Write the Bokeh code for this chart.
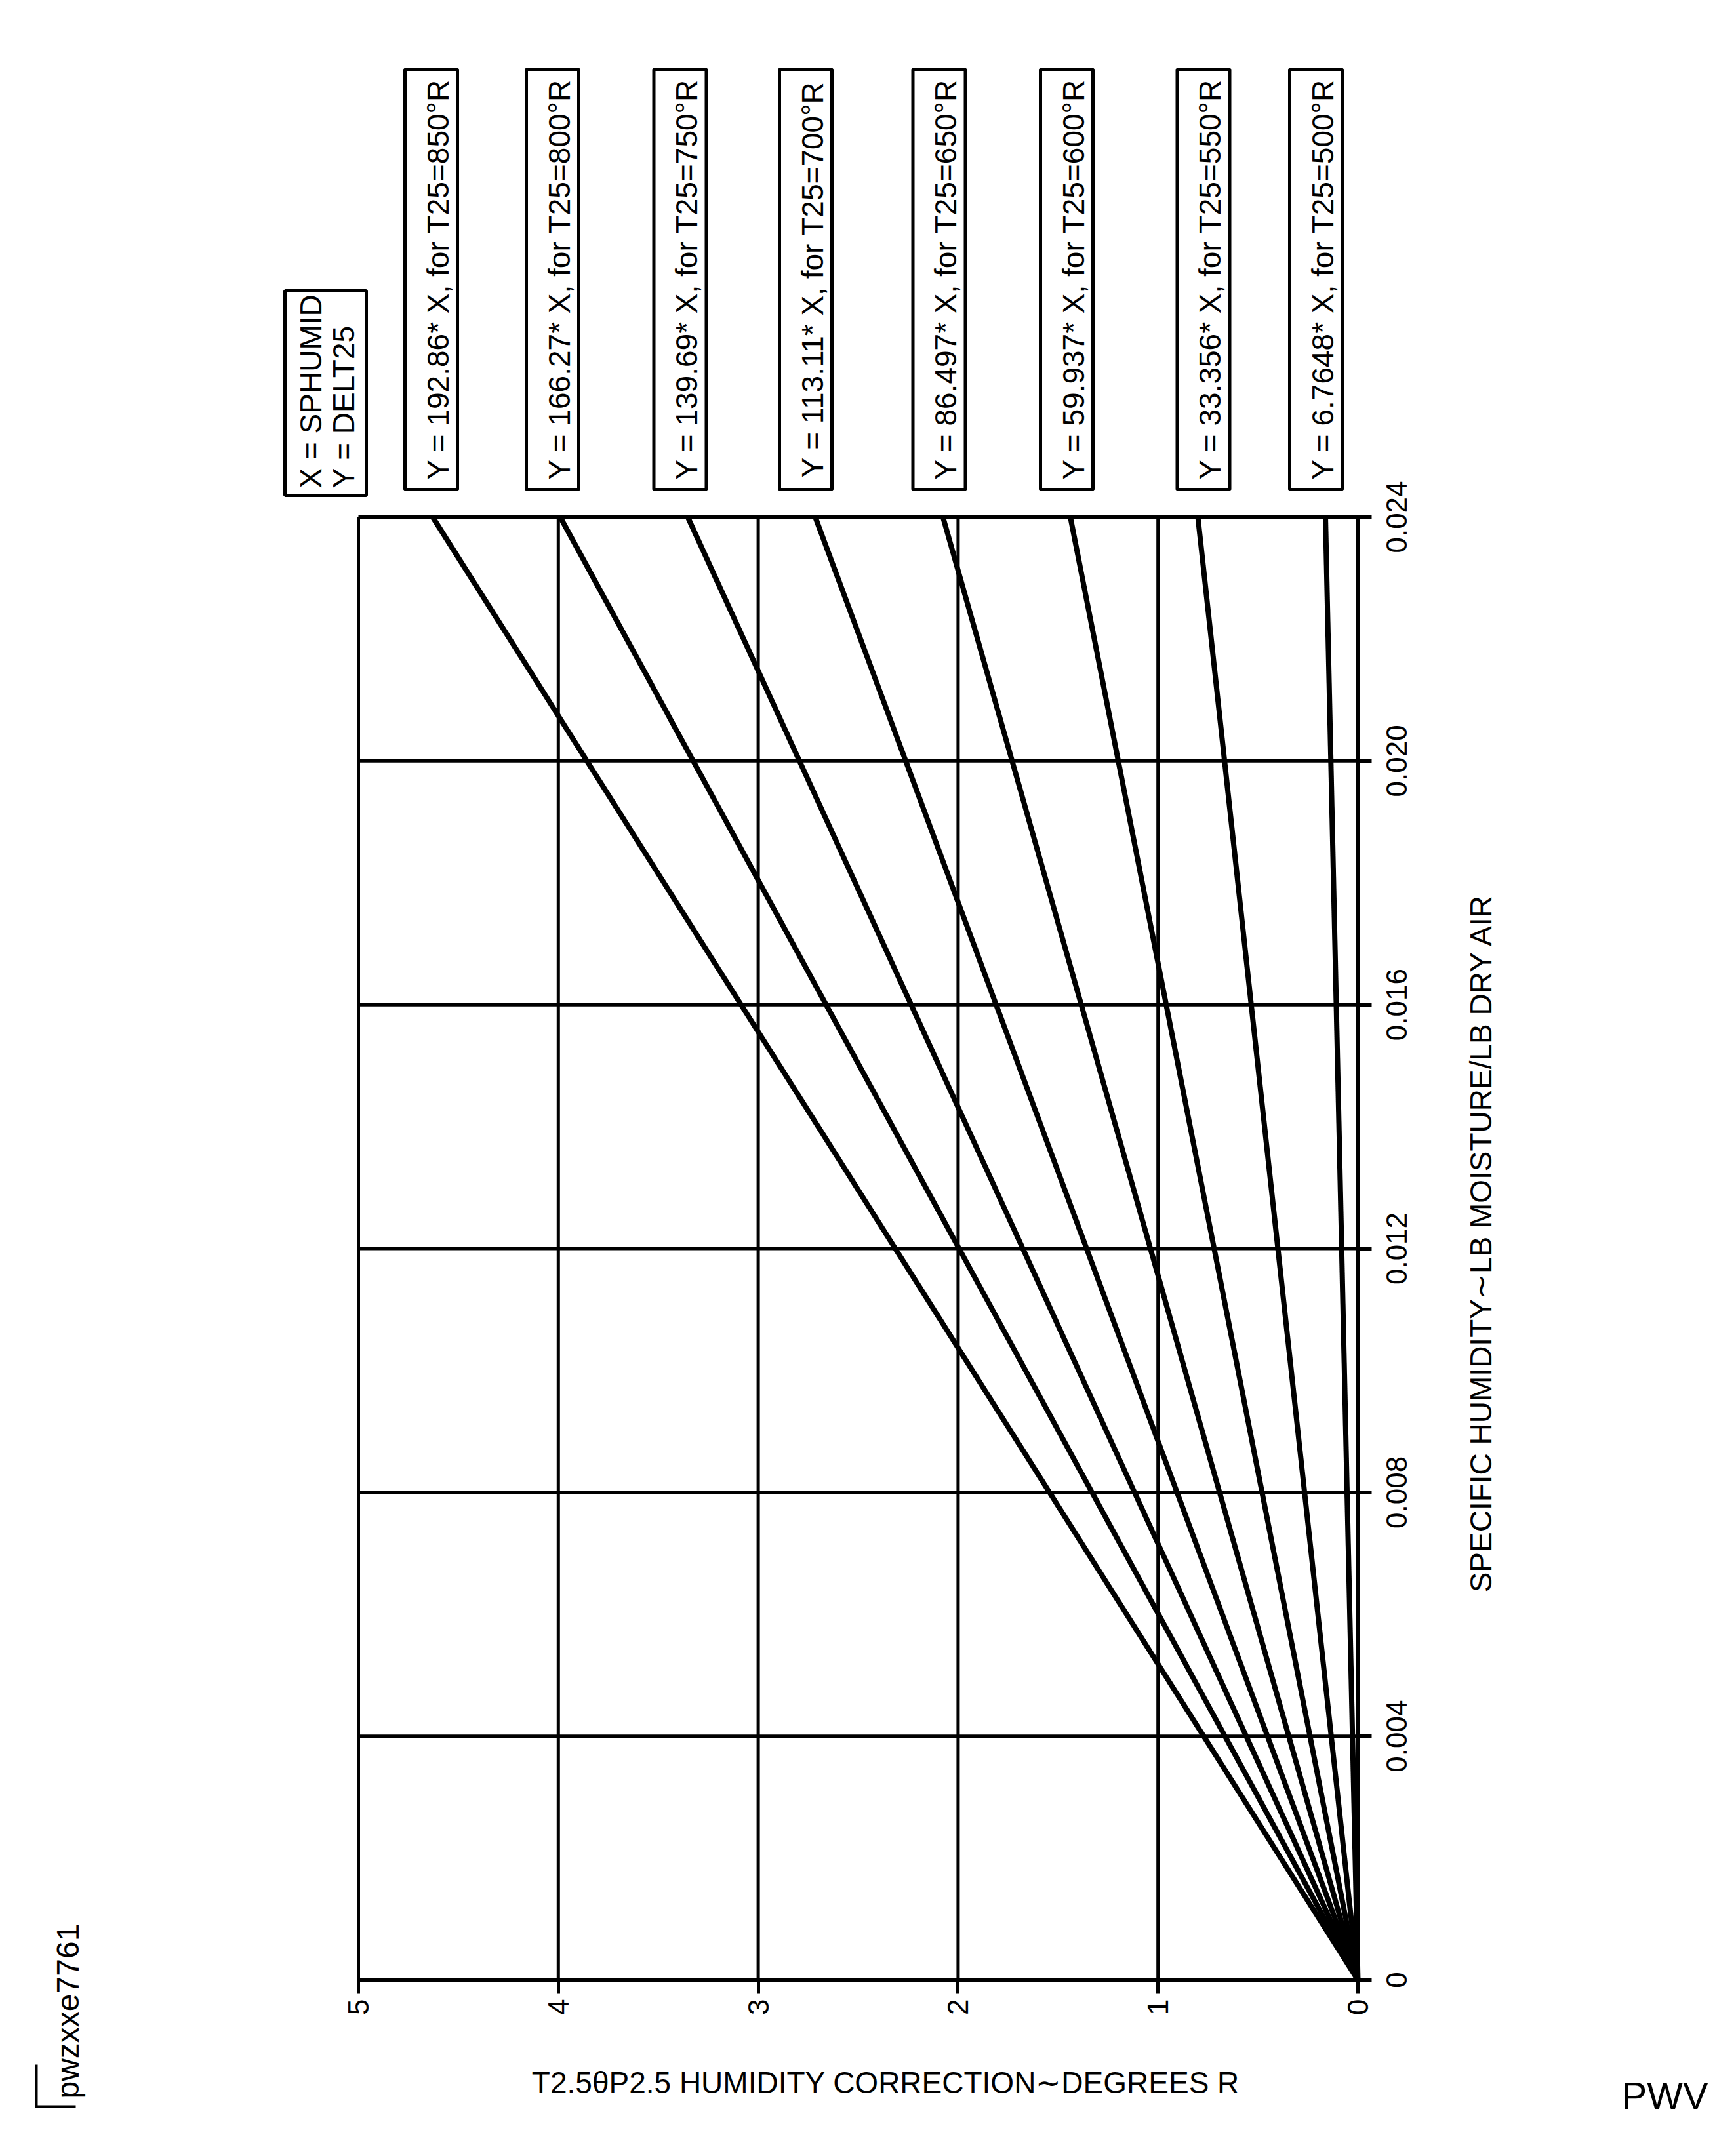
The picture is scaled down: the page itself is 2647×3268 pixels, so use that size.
from math import pi
from bokeh.plotting import figure
from bokeh.models import Range1d, LinearAxis, FixedTicker, CustomJSTickFormatter
from bokeh.core.properties import value
from bokeh.embed import file_html
from bokeh.resources import INLINE

# ---------------- data ----------------
temps_R = [850, 800, 750, 700, 650, 600, 550, 500]
slopes = ["192.86", "166.27", "139.69", "113.11", "86.497", "59.937", "33.356", "6.7648"]
humidity_span = [0.0, 0.024]

correction_ticks = [0, 1, 2, 3, 4, 5]
correction_tick_labels = ["0", "1", "2", "3", "4", "5"]
humidity_ticks = [0.0, 0.004, 0.008, 0.012, 0.016, 0.020, 0.024]
humidity_tick_labels = ["0", "0.004", "0.008", "0.012", "0.016", "0.020", "0.024"]

x_title = "T2.5θP2.5 HUMIDITY CORRECTION∼DEGREES R"
y_title = "SPECIFIC HUMIDITY∼LB MOISTURE/LB DRY AIR"
key_lines = ["X = SPHUMID", "Y = DELT25"]
fig_id = "pwzxxe7761"
corner_tag = "PWV"

# ---------------- layout ----------------
W, H = 2630, 3250
MARGIN = 0
CL, CR, CT, CB = 546, 2070, 788, 3019     # chart area on the canvas (px)
XA, XB = 5.0, 0.0                          # correction at CL / CR
YA, YB = 0.0, 0.024                        # humidity at CB / CT
FONT = "Liberation Sans"


def xd(c):
    return XA + (c - CL) / (CR - CL) * (XB - XA)


def yd(c):
    return YA + (CB - c) / (CB - CT) * (YB - YA)


def dx(page_px):
    return xd(page_px - MARGIN)


def dy(page_py):
    return yd(page_py - MARGIN)


p = figure(width=W, height=H,
           x_range=Range1d(xd(0), xd(W)), y_range=Range1d(yd(H), yd(0)),
           x_axis_type=None, y_axis_type=None,
           toolbar_location=None, output_backend="svg",
           min_border=0, min_border_left=0, min_border_right=0,
           min_border_top=0, min_border_bottom=0,
           background_fill_color="white", border_fill_color="white",
           outline_line_color=None)

# grid lines
p.segment(x0=correction_ticks, y0=[humidity_ticks[0]] * len(correction_ticks),
          x1=correction_ticks, y1=[humidity_ticks[-1]] * len(correction_ticks),
          line_color="black", line_width=5)
p.segment(x0=[correction_ticks[-1]] * len(humidity_ticks), y0=humidity_ticks,
          x1=[correction_ticks[0]] * len(humidity_ticks), y1=humidity_ticks,
          line_color="black", line_width=5)

# axes (ticks + axis lines), fixed at the chart's zero lines
blank = CustomJSTickFormatter(code="return '';")
xaxis = LinearAxis(fixed_location=humidity_ticks[0],
                   bounds=(correction_ticks[0], correction_ticks[-1]),
                   ticker=FixedTicker(ticks=correction_ticks), formatter=blank)
yaxis = LinearAxis(fixed_location=correction_ticks[0],
                   bounds=(humidity_ticks[0], humidity_ticks[-1]),
                   ticker=FixedTicker(ticks=humidity_ticks), formatter=blank)
for ax in (xaxis, yaxis):
    ax.major_tick_out = 21
    ax.major_tick_in = 0
    ax.minor_tick_out = 0
    ax.minor_tick_in = 0
    ax.major_tick_line_width = 5
    ax.major_tick_line_color = "black"
    ax.axis_line_width = 5
    ax.axis_line_color = "black"
    ax.major_label_text_font_size = "0px"
p.add_layout(xaxis, "below")
p.add_layout(yaxis, "right")

# tick labels
p.text(x=correction_ticks, y=[dy(3048)] * len(correction_ticks), text=correction_tick_labels,
       angle=pi / 2, text_align="right", text_baseline="middle",
       text_font=value(FONT), text_font_size="44px", text_color="black")
p.text(x=[dx(2129)] * len(humidity_ticks), y=humidity_ticks, text=humidity_tick_labels,
       angle=pi / 2, text_align="center", text_baseline="middle",
       text_font=value(FONT), text_font_size="44px", text_color="black")

# lines Y = k * X
for s in slopes:
    k = float(s)
    p.line(x=[k * h for h in humidity_span], y=humidity_span,
           line_color="black", line_width=8)

# equation boxes
box_cx = [657, 842, 1036.5, 1228, 1431.5, 1626, 1834.5, 2006]
box_cy = 425.5
p.rect(x=[dx(c) for c in box_cx], y=[dy(box_cy)] * len(box_cx),
       width=80, height=641, width_units="screen", height_units="screen",
       fill_color="white", line_color="black", line_width=5)
p.text(x=[dx(c + 10) for c in box_cx], y=[dy(box_cy)] * len(box_cx),
       text=[f"Y = {s}* X, for T25={t}°R" for s, t in zip(slopes, temps_R)],
       angle=pi / 2, text_align="center", text_baseline="middle",
       text_font=value(FONT), text_font_size="46px", text_color="black")

# key box
p.rect(x=[dx(496)], y=[dy(599)], width=124, height=312,
       width_units="screen", height_units="screen",
       fill_color="white", line_color="black", line_width=5)
p.text(x=[dx(473), dx(523)], y=[dy(744)] * 2, text=key_lines,
       angle=pi / 2, text_align="left", text_baseline="middle",
       text_font=value(FONT), text_font_size="46px", text_color="black")

# axis titles
p.text(x=[dx(1350)], y=[dy(3175)], text=[x_title],
       text_align="center", text_baseline="alphabetic",
       text_font=value(FONT), text_font_size="46px", text_color="black")
p.text(x=[dx(2257)], y=[dy(1895)], text=[y_title], angle=pi / 2,
       text_align="center", text_baseline="middle",
       text_font=value(FONT), text_font_size="46px", text_color="black")

# figure id, bracket and tag
p.text(x=[dx(103)], y=[dy(3200)], text=[fig_id], angle=pi / 2,
       text_align="left", text_baseline="alphabetic",
       text_font=value(FONT), text_font_size="48px", text_color="black")
p.line(x=[dx(55), dx(55), dx(115)], y=[dy(3148), dy(3212), dy(3212)],
       line_color="black", line_width=4, line_join="miter")
p.text(x=[dx(2472)], y=[dy(3195)], text=[corner_tag],
       text_align="left", text_baseline="alphabetic",
       text_font=value(FONT), text_font_size="58px", text_color="black")

open("out.html", "w").write(file_html(p, INLINE))
